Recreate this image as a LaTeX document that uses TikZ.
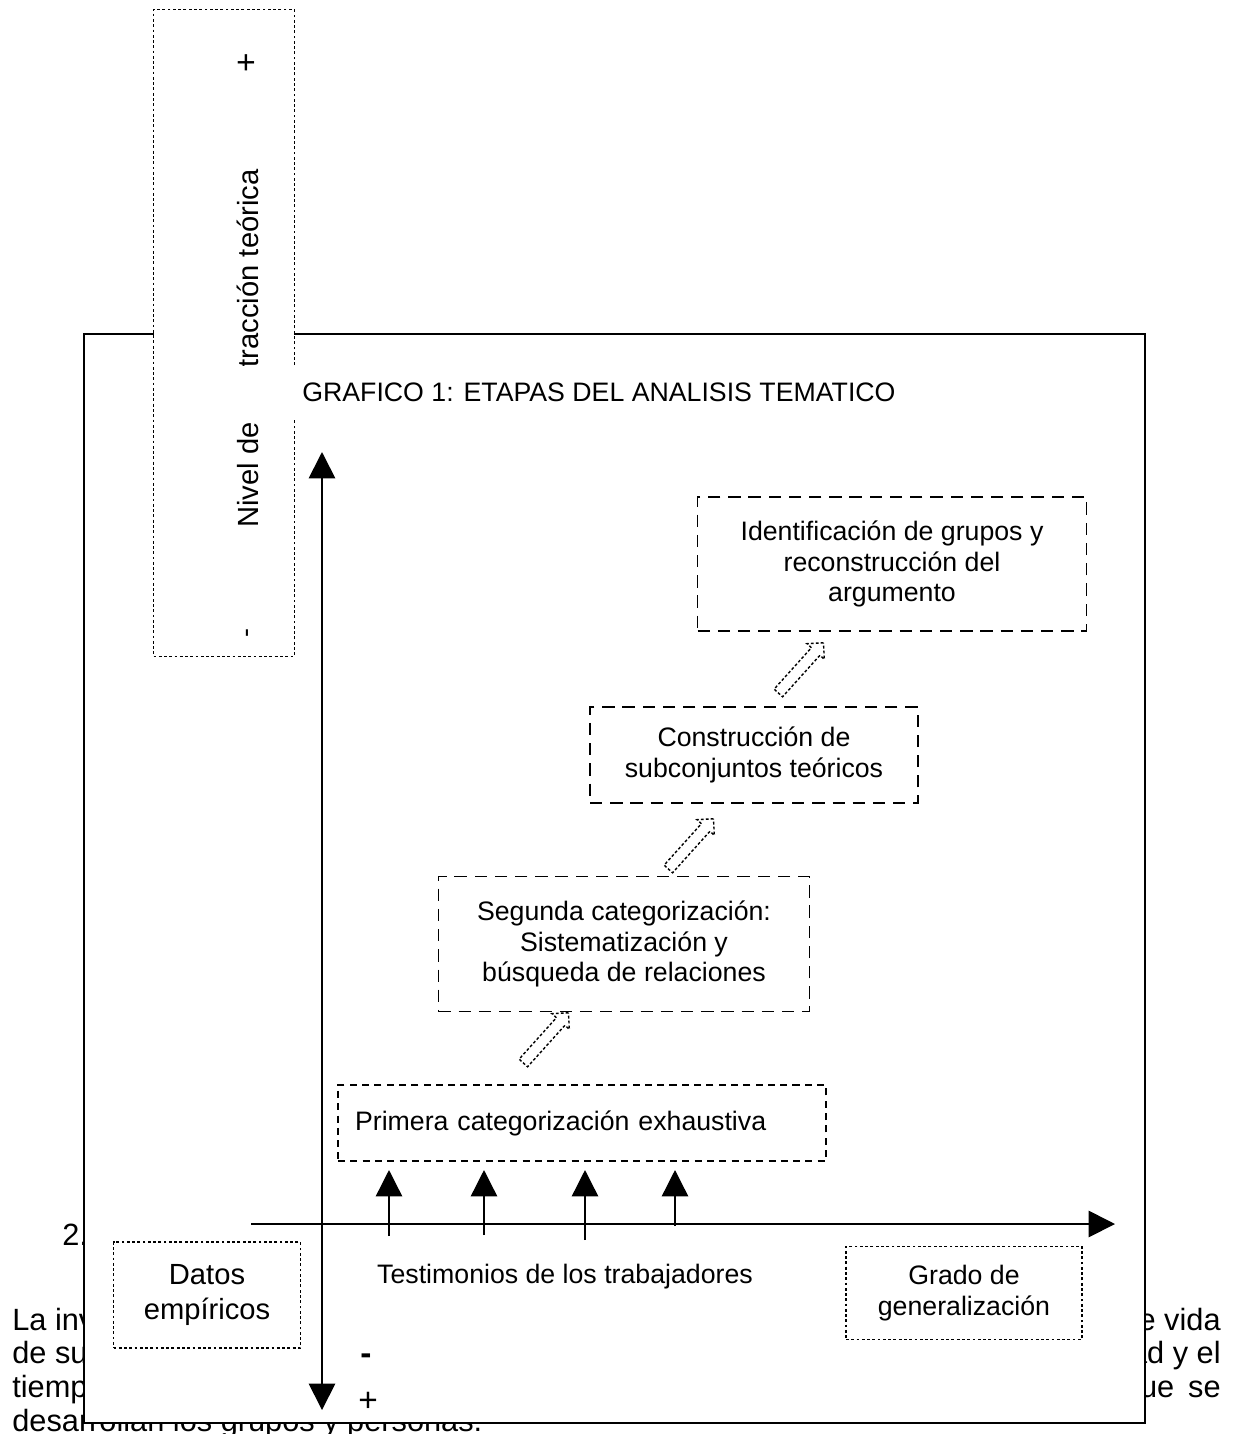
\documentclass[tikz,border=0pt]{standalone}
\usepackage{fontspec}
\setmainfont{Liberation Sans}
\usetikzlibrary{arrows.meta,shapes.arrows}

\begin{document}
\begin{tikzpicture}[x=0.02cm,y=-0.02cm,>={Triangle[length=15pt,width=15pt]},
                    font=\fontsize{15.2}{17.5}\selectfont]
  \tikzstyle{stage}=[draw,dash pattern=on 7pt off 4.5pt,line width=0.8pt,
                     align=center,inner sep=0pt]
  \tikzstyle{label box}=[draw,dash pattern=on 1.6pt off 1.4pt,line width=0.8pt,
                         fill=white,align=center,inner sep=0pt]
  \tikzstyle{step arrow}=[single arrow,draw,dash pattern=on 1.6pt off 1.2pt,
                          line width=0.8pt,minimum height=1.35cm,inner sep=0.1cm,
                          single arrow head extend=0.12cm,rotate=48]
  \tikzstyle{page text}=[font=\fontsize{17.5}{20}\selectfont,inner sep=0pt]
  \tikzstyle{sign}=[font=\fontsize{19}{20}\selectfont,inner sep=0pt]
  \tikzstyle{axis}=[<->,line width=1pt]

  \useasboundingbox (0,0) rectangle (1233,1434);

  % text of the page behind the frame
  \node[page text,anchor=base west] (num) at (62,1245) {2.};
  \node[page text,anchor=base west] (l1) at (12,1330) {La invest};
  \node[page text,anchor=base west] (l2) at (12,1363) {de suj};
  \node[page text,anchor=base west] (l3) at (12,1397) {tiempo};
  \node[page text,anchor=base west] (l4) at (12,1431) {desarrollan los grupos y personas.};
  \node[page text,anchor=base east] (r1) at (1221,1330) {de vida};
  \node[page text,anchor=base east] (r2) at (1221,1363) {ad y el};
  \node[page text,anchor=base east] (r3) at (1221,1397) {que\hspace{0.45em}se};

  % frame
  \filldraw[fill=white,line width=0.8pt] (84,334) rectangle (1145,1423);

  % axes
  \draw[axis] (322,452) -- (322,1410);
  \coordinate (x0) at (251,1224);
  \coordinate (x1) at (1115,1224);
  \draw[->,line width=1pt] (x0) -- (x1);
  \node[sign] (minus) at (366,1359) {\bfseries -};
  \node[sign] (plus)  at (368,1402) {+};

  % stages
  \node[stage,minimum width=7.78cm,minimum height=2.68cm] (ident) at (892,564)
       {Identificación de grupos y\\reconstrucción del\\argumento};
  \node[stage,minimum width=6.56cm,minimum height=1.92cm] (constr) at (754,755)
       {Construcción de\\subconjuntos teóricos};
  \node[stage,minimum width=7.42cm,minimum height=2.70cm] (segunda) at (624,944)
       {Segunda categorización:\\Sistematización y\\búsqueda de relaciones};
  \node[stage,dash pattern=on 4pt off 3pt,minimum height=1.52cm,text width=9.08cm,
        inner xsep=0.34cm,align=left] (primera) at (582,1123)
       {Primera categorización exhaustiva};

  \node[step arrow] (u1) at (544,1040) {};
  \node[step arrow] (u2) at (689,846) {};
  \node[step arrow] (u3) at (799,670) {};

  % testimonies
  \foreach \x/\b in {389/1236,484/1235,585/1240,675/1226}
    \draw[->,line width=0.8pt] (\x,\b) -- (\x,1170);
  \node (testim) at (565,1277) {Testimonios de los trabajadores};

  \node[label box,font=\fontsize{16.6}{19.4}\selectfont,minimum width=3.74cm,
        minimum height=2.12cm] (datos) at (207,1295) {Datos\\empíricos};
  \node[label box,minimum width=4.72cm,minimum height=1.86cm] (grado) at (964,1293)
       {Grado de\\generalización};

  % level of abstraction
  \node[label box,minimum width=2.82cm,minimum height=12.94cm] (nivel) at (224,333) {};
  \node[rotate=90,anchor=base west,inner sep=0pt,font=\fontsize{16.6}{19}\selectfont]
       (nivtxt) at (258,528) {Nivel de abstracción teórica};
  \node[sign,rotate=90] (nmas) at (248,63) {+};
  \node[rotate=90,inner sep=0pt] (nmenos) at (250,633) {-};

  % title
  \fill[white] (200,366) rectangle (905,420);
  \node[anchor=west,inner sep=0pt] (title) at (302,392)
       {GRAFICO 1: ETAPAS DEL ANALISIS TEMATICO};
\end{tikzpicture}
\end{document}
